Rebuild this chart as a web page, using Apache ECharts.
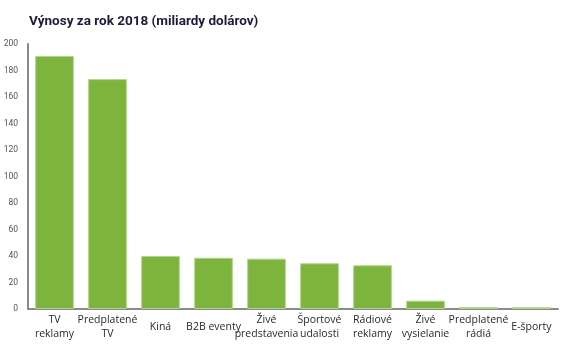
<!DOCTYPE html>
<html>
<head>
<meta charset="utf-8">
<script src="https://cdn.jsdelivr.net/npm/echarts@6/dist/echarts.min.js"></script>
<style>html,body{margin:0;padding:0;background:#fff}#c{width:586px;height:352px}</style>
</head>
<body>
<div id="c"></div>
<script>
const titleText = 'Výnosy za rok 2018 (miliardy dolárov)';
const categories = ['TV\nreklamy', 'Predplatené\nTV', 'Kiná', 'B2B eventy', 'Živé\npredstavenia', 'Športové\nudalosti', 'Rádiové\nreklamy', 'Živé\nvysielanie', 'Predplatené\nrádiá', 'E-športy'];
const revenue = [191, 173.5, 40, 38.7, 38, 34.5, 33, 6.3, 1.6, 1.5];
const yTicks = [0, 20, 40, 60, 80, 100, 120, 140, 160, 180, 200];

const chart = echarts.init(document.getElementById('c'));
chart.setOption({
  animation: false,
  title: {
    text: titleText, left: 24, top: 10,
    textStyle: {fontFamily: 'Roboto', fontWeight: 'bold', fontSize: 13.5, color: '#1c1c3a'}
  },
  grid: {left: 28, right: 28, top: 44, bottom: 43},
  xAxis: {
    type: 'category', data: categories,
    axisLine: {lineStyle: {color: '#8a8a8a', width: 2}},
    axisTick: {show: false},
    axisLabel: {interval: 0, fontFamily: 'Open Sans', fontSize: 10.5, color: '#2a2a2a', lineHeight: 14, verticalAlign: 'middle', margin: 18}
  },
  yAxis: {
    type: 'value', min: 0, max: 200, interval: 20,
    axisLine: {show: true, lineStyle: {color: '#8a8a8a', width: 2}},
    axisTick: {show: false},
    splitLine: {show: false},
    axisLabel: {fontFamily: 'Roboto', fontSize: 8.5, color: '#555', margin: 10,
      formatter: v => yTicks.includes(v) ? String(v) : ''}
  },
  series: [{
    type: 'bar', data: revenue, barWidth: '73%',
    itemStyle: {color: '#7db43e', borderColor: '#b3d68c', borderWidth: 1}
  }]
});
</script>
</body>
</html>
